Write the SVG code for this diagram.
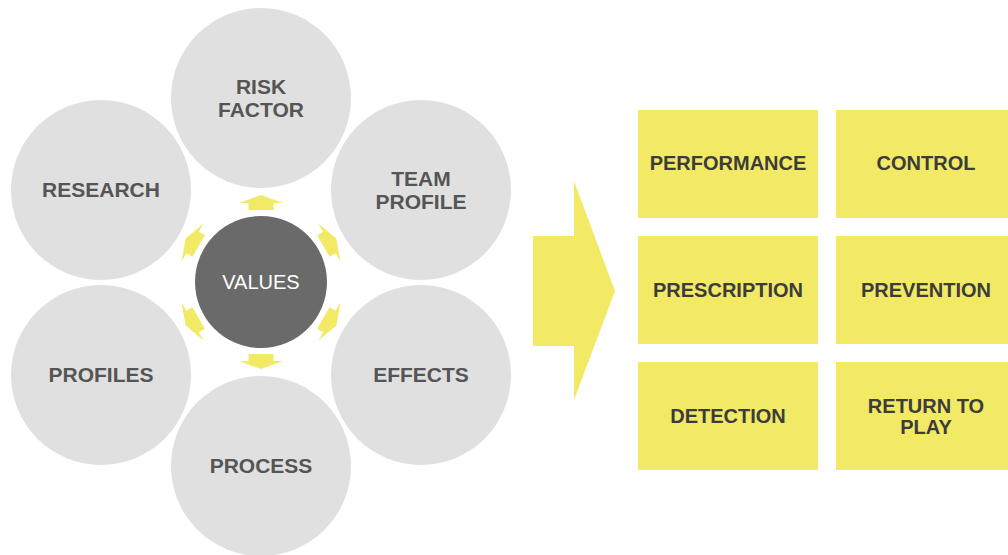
<svg xmlns="http://www.w3.org/2000/svg" width="1008" height="555" viewBox="0 0 1008 555">
  <defs>
    <style>
      .ring { fill: #e0e0e0; }
      .core { fill: #6a6a6a; }
      .ring-label { font-family: "Liberation Sans", Arial, sans-serif; font-weight: bold; font-size: 21px; fill: #555555; text-anchor: middle; }
      .core-label { font-family: "Liberation Sans", Arial, sans-serif; font-size: 20px; fill: #ffffff; text-anchor: middle; }
      .box { fill: #f2e964; }
      .box-label { font-family: "Liberation Sans", Arial, sans-serif; font-weight: bold; font-size: 20px; fill: #3c3c3c; text-anchor: middle; }
      .flow { fill: #f2e964; }
    </style>
    <!-- small outward arrow, pointing up, origin at the hub centre -->
    <polygon id="spoke" points="-12.5,-72 12.5,-72 12.5,-79 22,-79 0,-87 -22,-79 -12.5,-79"/>
  </defs>

  <!-- outer circles -->
  <g id="risk-factor">
    <circle class="ring" cx="261" cy="98" r="90"/>
    <text class="ring-label" x="261" y="94">RISK</text>
    <text class="ring-label" x="261" y="117">FACTOR</text>
  </g>
  <g id="research">
    <circle class="ring" cx="101" cy="190" r="90"/>
    <text class="ring-label" x="101" y="197">RESEARCH</text>
  </g>
  <g id="team-profile">
    <circle class="ring" cx="421" cy="190" r="90"/>
    <text class="ring-label" x="421" y="186">TEAM</text>
    <text class="ring-label" x="421" y="209">PROFILE</text>
  </g>
  <g id="profiles">
    <circle class="ring" cx="101" cy="375" r="90"/>
    <text class="ring-label" x="101" y="382">PROFILES</text>
  </g>
  <g id="effects">
    <circle class="ring" cx="421" cy="375" r="90"/>
    <text class="ring-label" x="421" y="382">EFFECTS</text>
  </g>
  <g id="process">
    <circle class="ring" cx="261" cy="466" r="90"/>
    <text class="ring-label" x="261" y="473">PROCESS</text>
  </g>

  <!-- hub -->
  <g id="values">
    <circle class="core" cx="261" cy="282" r="66"/>
    <text class="core-label" x="261" y="289">VALUES</text>
  </g>

  <!-- connectors: spokes from the hub and the flow arrow -->
  <g id="connectors">
    <g class="flow" transform="translate(261,282)">
      <use href="#spoke"/>
      <use href="#spoke" transform="rotate(60)"/>
      <use href="#spoke" transform="rotate(120)"/>
      <use href="#spoke" transform="rotate(180)"/>
      <use href="#spoke" transform="rotate(240)"/>
      <use href="#spoke" transform="rotate(300)"/>
    </g>
    <polygon class="flow" points="533,236 574,236 574,181 615,291 574,400 574,346 533,346"/>
  </g>

  <!-- outcome grid -->
  <g id="performance">
    <rect class="box" x="638" y="110" width="180" height="108"/>
    <text class="box-label" x="728" y="170">PERFORMANCE</text>
  </g>
  <g id="control">
    <rect class="box" x="836" y="110" width="180" height="108"/>
    <text class="box-label" x="926" y="170">CONTROL</text>
  </g>
  <g id="prescription">
    <rect class="box" x="638" y="236" width="180" height="108"/>
    <text class="box-label" x="728" y="297">PRESCRIPTION</text>
  </g>
  <g id="prevention">
    <rect class="box" x="836" y="236" width="180" height="108"/>
    <text class="box-label" x="926" y="297">PREVENTION</text>
  </g>
  <g id="detection">
    <rect class="box" x="638" y="362" width="180" height="108"/>
    <text class="box-label" x="728" y="423">DETECTION</text>
  </g>
  <g id="return-to-play">
    <rect class="box" x="836" y="362" width="180" height="108"/>
    <text class="box-label" x="926" y="413">RETURN TO</text>
    <text class="box-label" x="926" y="434">PLAY</text>
  </g>
</svg>
